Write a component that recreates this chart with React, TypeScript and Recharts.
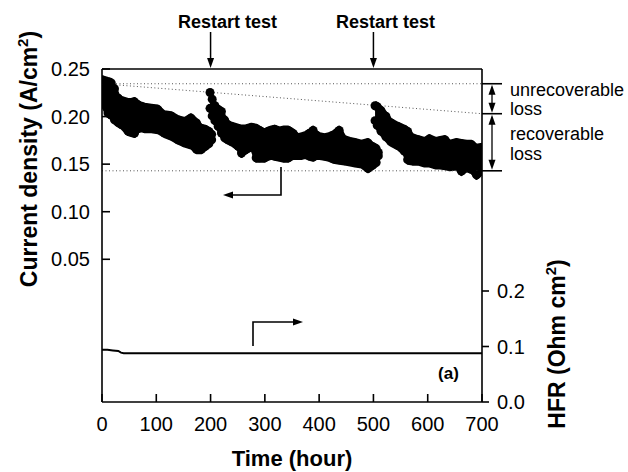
import React from 'react';
import { ComposedChart, Area, Line, Scatter, XAxis, YAxis, ReferenceLine } from 'recharts';

const FONT = '"Liberation Sans", Arial, Helvetica, sans-serif';

// Segment 1: 0 - ~200 h (current density envelope, A/cm2)
const seg1Hours = [0, 11, 17, 23, 30, 36, 48, 54, 60, 66, 73, 79, 91, 103, 115, 128, 140, 152, 164, 174, 183, 190, 197, 202];
const seg1Top = [0.242, 0.240, 0.239, 0.233, 0.223, 0.220, 0.218, 0.218, 0.219, 0.216, 0.214, 0.213, 0.212, 0.211, 0.205, 0.204, 0.200, 0.198, 0.202, 0.197, 0.191, 0.190, 0.188, 0.185];
const seg1Bottom = [0.212, 0.200, 0.198, 0.193, 0.190, 0.188, 0.181, 0.180, 0.179, 0.184, 0.185, 0.184, 0.184, 0.183, 0.179, 0.176, 0.172, 0.169, 0.167, 0.162, 0.162, 0.165, 0.168, 0.172];

// Segment 2: restart at 200 h
const seg2Hours = [199, 203, 208, 214, 220, 226, 232, 239, 251, 257, 263, 269, 275, 284, 290, 299, 306, 312, 318, 327, 335, 343, 352, 361, 368, 374, 382, 389, 395, 401, 410, 418, 426, 437, 447, 457, 466, 478, 490, 498, 505, 509];
const seg2Top = [0.229, 0.222, 0.215, 0.211, 0.209, 0.200, 0.195, 0.193, 0.191, 0.190, 0.190, 0.191, 0.192, 0.191, 0.189, 0.186, 0.188, 0.189, 0.190, 0.188, 0.189, 0.189, 0.186, 0.181, 0.182, 0.183, 0.186, 0.189, 0.184, 0.182, 0.181, 0.182, 0.184, 0.189, 0.179, 0.177, 0.176, 0.174, 0.176, 0.172, 0.170, 0.166];
const seg2Bottom = [0.205, 0.197, 0.192, 0.186, 0.179, 0.174, 0.172, 0.170, 0.165, 0.158, 0.161, 0.163, 0.167, 0.153, 0.153, 0.153, 0.155, 0.156, 0.155, 0.154, 0.153, 0.153, 0.156, 0.156, 0.156, 0.157, 0.155, 0.154, 0.156, 0.156, 0.155, 0.154, 0.152, 0.151, 0.150, 0.149, 0.148, 0.147, 0.142, 0.145, 0.148, 0.155];

// Segment 3: restart at 500 h
const seg3Hours = [503, 507, 514, 523, 532, 545, 557, 563, 572, 582, 594, 603, 615, 623, 632, 641, 653, 662, 672, 681, 690, 700];
const seg3Top = [0.215, 0.214, 0.210, 0.204, 0.197, 0.193, 0.190, 0.188, 0.181, 0.179, 0.177, 0.180, 0.177, 0.178, 0.179, 0.174, 0.176, 0.175, 0.174, 0.174, 0.170, 0.171];
const seg3Bottom = [0.192, 0.187, 0.181, 0.175, 0.170, 0.166, 0.160, 0.151, 0.150, 0.150, 0.148, 0.148, 0.146, 0.146, 0.145, 0.144, 0.145, 0.139, 0.143, 0.141, 0.135, 0.140];

// HFR (Ohm cm2)
const hfrHours = [0, 10, 20, 30, 35, 40, 60, 100, 150, 200, 250, 300, 350, 400, 450, 500, 550, 600, 650, 700];
const hfrValues = [0.094, 0.094, 0.093, 0.092, 0.089, 0.088, 0.088, 0.088, 0.088, 0.088, 0.088, 0.088, 0.088, 0.088, 0.088, 0.088, 0.088, 0.088, 0.088, 0.088];

const xTicks = [0, 100, 200, 300, 400, 500, 600, 700];
const leftTicks = [0.05, 0.1, 0.15, 0.2, 0.25];
const rightTicks = [0, 0.1, 0.2];
const restartHours = [200, 500];
const unrecoverableLevel = 0.2345;
const slopeEndLevel = 0.203;
const recoverableFloor = 0.143;

const X_DOMAIN = [0, 700];
const L_DOMAIN = [-0.1, 0.25];
const R_DOMAIN = [0, 0.6];

const band = (hours: number[], top: number[], bottom: number[]) =>
  hours.map((h, i) => ({ h, lo: bottom[i], hi: top[i] }));
const segs = [
  band(seg1Hours, seg1Top, seg1Bottom),
  band(seg2Hours, seg2Top, seg2Bottom),
  band(seg3Hours, seg3Top, seg3Bottom),
];
const hfr = hfrHours.map((h, i) => ({ h, v: hfrValues[i] }));

// plot box (matches axis sizes / margins below)
const W = 628, H = 472;
const PL = 102, PR = 482, PT = 69, PB = 402;
const xPx = (h: number) => PL + ((h - X_DOMAIN[0]) / (X_DOMAIN[1] - X_DOMAIN[0])) * (PR - PL);
const yL = (v: number) => PT + ((L_DOMAIN[1] - v) / (L_DOMAIN[1] - L_DOMAIN[0])) * (PB - PT);

const AX = { stroke: '#000', strokeWidth: 1.6 };
const TICK = { fill: '#000', fontSize: 20, fontFamily: FONT };
const R = 4.5;

const TopDot = (p: any) => <circle cx={p.cx} cy={p.cy + R - 1} r={R} fill="#000" />;
const BottomDot = (p: any) => <circle cx={p.cx} cy={p.cy - R + 1} r={R} fill="#000" />;

function Arrowhead({ x, y, dir }: { x: number; y: number; dir: 'down' | 'up' | 'left' | 'right' }) {
  const L = 10, w = 3.5;
  let pts = '';
  if (dir === 'down') pts = `${x},${y} ${x - w},${y - L} ${x + w},${y - L}`;
  if (dir === 'up') pts = `${x},${y} ${x - w},${y + L} ${x + w},${y + L}`;
  if (dir === 'left') pts = `${x},${y} ${x + L},${y - w} ${x + L},${y + w}`;
  if (dir === 'right') pts = `${x},${y} ${x - L},${y - w} ${x - L},${y + w}`;
  return <polygon points={pts} fill="#000" />;
}

function Overlay() {
  const yU = yL(unrecoverableLevel);
  const yS = yL(slopeEndLevel);
  const yF = yL(recoverableFloor);
  const bx = 492;
  return (
    <svg width={W} height={H} style={{ position: 'absolute', left: 0, top: 0, pointerEvents: 'none' }}>
      {restartHours.map((h) => (
        <g key={h}>
          <text x={xPx(h) + (h === 200 ? 17 : 12)} y={28} textAnchor="middle" fontFamily={FONT} fontWeight="bold" fontSize={18} fill="#000">Restart test</text>
          <line x1={xPx(h)} y1={32} x2={xPx(h)} y2={60} stroke="#000" strokeWidth={1.5} />
          <Arrowhead x={xPx(h)} y={68} dir="down" />
        </g>
      ))}
      {/* loss bracket */}
      {[yU, yS, yF].map((y, i) => (
        <line key={i} x1={PR} y1={y} x2={502} y2={y} stroke="#000" strokeWidth={1.6} />
      ))}
      <line x1={bx} y1={yU + 8} x2={bx} y2={yS - 8} stroke="#000" strokeWidth={1.3} />
      <Arrowhead x={bx} y={yU + 1} dir="up" />
      <Arrowhead x={bx} y={yS - 1} dir="down" />
      <line x1={bx} y1={yS + 8} x2={bx} y2={yF - 8} stroke="#000" strokeWidth={1.3} />
      <Arrowhead x={bx} y={yS + 1} dir="up" />
      <Arrowhead x={bx} y={yF - 1} dir="down" />
      <g fontFamily={FONT} fontSize={18} fill="#000">
        <text x={510} y={96}>unrecoverable</text>
        <text x={510} y={115}>loss</text>
        <text x={510} y={140}>recoverable</text>
        <text x={510} y={160}>loss</text>
      </g>
      {/* axis pointer arrows */}
      <polyline points="281,167 281,195 231,195" fill="none" stroke="#000" strokeWidth={1.6} />
      <Arrowhead x={223} y={195} dir="left" />
      <polyline points="253,346 253,322 295,322" fill="none" stroke="#000" strokeWidth={1.6} />
      <Arrowhead x={303} y={322} dir="right" />
      <text x={448.5} y={379} textAnchor="middle" fontFamily={FONT} fontWeight="bold" fontSize={17} fill="#000">(a)</text>
      {/* axis titles */}
      <text x={292} y={466} textAnchor="middle" fontFamily={FONT} fontWeight="bold" fontSize={22} fill="#000">Time (hour)</text>
      <text transform="translate(37,159) rotate(-90)" textAnchor="middle" fontFamily={FONT} fontWeight="bold" fontSize={23} fill="#000">
        Current density (A/cm<tspan dy={-9} fontSize={15}>2</tspan><tspan dy={9}>)</tspan>
      </text>
      <text transform="translate(565,344) rotate(-90)" textAnchor="middle" fontFamily={FONT} fontWeight="bold" fontSize={23} fill="#000">
        HFR (Ohm cm<tspan dy={-9} fontSize={15}>2</tspan><tspan dy={9}>)</tspan>
      </text>
    </svg>
  );
}

export default function App() {
  return (
    <div style={{ position: 'absolute', left: 0, top: 0, width: W, height: H, background: '#fff' }}>
      <ComposedChart width={W} height={H} margin={{ top: 49, right: 0, bottom: 0, left: 0 }}>
        <XAxis xAxisId="b" type="number" dataKey="h" domain={X_DOMAIN} ticks={xTicks} interval={0} allowDataOverflow
          orientation="bottom" height={70} tickSize={-8} tickMargin={23} tick={TICK} axisLine={AX} tickLine={AX} />
        <XAxis xAxisId="t" type="number" dataKey="h" domain={X_DOMAIN} ticks={xTicks} interval={0} allowDataOverflow
          orientation="top" height={20} tickSize={-8} tick={false} axisLine={AX} tickLine={AX} />
        <YAxis yAxisId="l" type="number" domain={L_DOMAIN} ticks={leftTicks} interval={0} allowDataOverflow
          width={102} tickSize={-8} tickMargin={20} tick={TICK} axisLine={AX} tickLine={AX}
          tickFormatter={(v: number) => v.toFixed(2)} />
        <YAxis yAxisId="r" type="number" orientation="right" domain={R_DOMAIN} ticks={rightTicks} interval={0} allowDataOverflow
          width={146} tickSize={7} tickMargin={8} tick={TICK} axisLine={AX} tickLine={AX}
          tickFormatter={(v: number) => v.toFixed(1)} />
        <ReferenceLine xAxisId="b" yAxisId="l" y={unrecoverableLevel} stroke="#555" strokeDasharray="1 2.5" strokeWidth={1} />
        <ReferenceLine xAxisId="b" yAxisId="l" y={recoverableFloor} stroke="#555" strokeDasharray="1 2.5" strokeWidth={1} />
        <ReferenceLine xAxisId="b" yAxisId="l" segment={[{ x: 0, y: unrecoverableLevel }, { x: 700, y: slopeEndLevel }]}
          stroke="#555" strokeDasharray="1 2.5" strokeWidth={1} />
        {segs.map((d, i) => (
          <Area key={`a${i}`} xAxisId="b" yAxisId="l" data={d} dataKey={(p: any) => [p.lo, p.hi]} type="linear"
            stroke="#000" strokeWidth={3} strokeLinejoin="round" fill="#000" fillOpacity={1}
            dot={false} activeDot={false} isAnimationActive={false} />
        ))}
        {segs.map((d, i) => (
          <Scatter key={`t${i}`} xAxisId="b" yAxisId="l" data={d} dataKey="hi" shape={TopDot} isAnimationActive={false} />
        ))}
        {segs.map((d, i) => (
          <Scatter key={`b${i}`} xAxisId="b" yAxisId="l" data={d} dataKey="lo" shape={BottomDot} isAnimationActive={false} />
        ))}
        <Line xAxisId="b" yAxisId="r" data={hfr} dataKey="v" type="linear" stroke="#000" strokeWidth={2}
          dot={false} activeDot={false} isAnimationActive={false} />
      </ComposedChart>
      <Overlay />
    </div>
  );
}
